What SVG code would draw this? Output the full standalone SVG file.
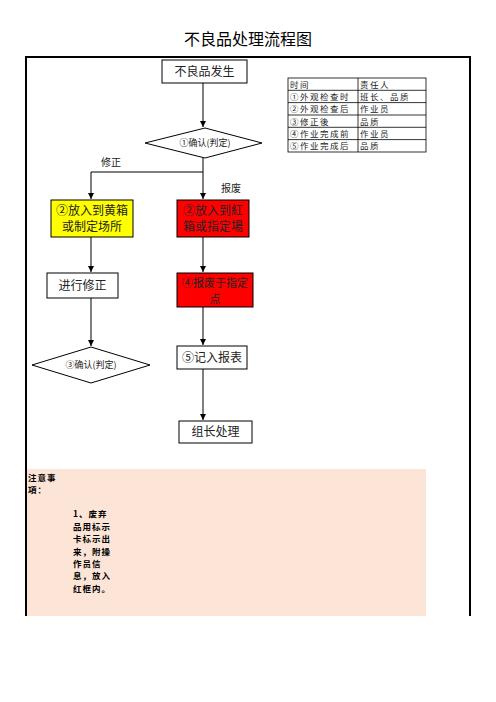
<svg xmlns="http://www.w3.org/2000/svg" width="496" height="702" viewBox="0 0 496 702">
<defs>
<style>
text{font-family:"Noto Sans CJK SC","Liberation Serif",sans-serif;fill:#222}
.t{font-size:12px;text-anchor:middle}
.s{font-size:9px;text-anchor:middle}
.tb{font-size:8.5px;letter-spacing:1.5px}
.n{font-size:8.5px;font-weight:bold;fill:#000;letter-spacing:1px}
.box{stroke:#000;stroke-width:1;fill:#fff}
.ln{stroke:#555;stroke-width:1.5;fill:none}
.cell{stroke:#000;stroke-width:0.8;fill:none}
</style>
<marker id="ah" markerWidth="8" markerHeight="8" refX="6" refY="3" orient="auto" markerUnits="userSpaceOnUse">
<path d="M0,0 L6,3 L0,6 Z" fill="#000"/>
</marker>
</defs>
<rect width="496" height="702" fill="#fff"/>
<text x="248" y="45" style="font-size:16px;text-anchor:middle;fill:#000">不良品处理流程图</text>
<rect x="27" y="469" width="399" height="147" fill="#FCE4D6"/>
<path d="M26,616 V57 H470 V616" fill="none" stroke="#000" stroke-width="2"/>
<g id="connectors">
<line class="ln" x1="203" y1="83" x2="203" y2="127" marker-end="url(#ah)"/>
<line class="ln" x1="203" y1="158" x2="203" y2="199" marker-end="url(#ah)"/>
<path d="M203,172 H91 V199" fill="none" stroke="#000" stroke-width="1" marker-end="url(#ah)"/>
<line class="ln" x1="91" y1="237" x2="91" y2="272" marker-end="url(#ah)"/>
<line class="ln" x1="91" y1="298" x2="91" y2="346" marker-end="url(#ah)"/>
<line class="ln" x1="203" y1="237" x2="203" y2="272" marker-end="url(#ah)"/>
<line class="ln" x1="203" y1="307" x2="203" y2="345" marker-end="url(#ah)"/>
<line class="ln" x1="203" y1="369" x2="203" y2="420" marker-end="url(#ah)"/>
<text x="111" y="166" class="s" style="font-size:10px">修正</text>
<text x="231" y="192" class="s" style="font-size:10px">报废</text>
</g>
<g id="n-start"><rect class="box" x="162" y="60" width="85" height="23"/><text x="204.5" y="76" class="t">不良品发生</text></g>
<g id="n-check1"><polygon class="box" points="205,128 262,143 205,158 145,143"/><text x="205" y="146" class="s">①确认(判定)</text></g>
<g id="n-yellow"><rect x="51" y="200" width="82" height="37" fill="#FFFF00" stroke="#000"/><text x="92" y="215" class="t">②放入到黄箱</text><text x="92" y="231" class="t">或制定场所</text></g>
<g id="n-red1"><rect x="177" y="200" width="72" height="37" fill="#FF0000" stroke="#000"/><text x="213" y="215" class="t">②放入到紅</text><text x="213" y="231" class="t">箱或指定場</text></g>
<g id="n-fix"><rect class="box" x="47" y="273" width="71" height="25"/><text x="82.5" y="290" class="t">进行修正</text></g>
<g id="n-check3"><polygon class="box" points="91,347 150,365 91,383 32,365"/><text x="91" y="368" class="s">③确认(判定)</text></g>
<g id="n-red2"><rect x="177" y="273" width="76" height="34" fill="#FF0000" stroke="#000"/><text x="215" y="287" class="t" style="font-size:11px">④报废于指定</text><text x="215" y="303" class="t" style="font-size:11px">点</text></g>
<g id="n-record"><rect class="box" x="177" y="346" width="70" height="23"/><text x="212" y="362" class="t">⑤记入报表</text></g>
<g id="n-leader"><rect class="box" x="179" y="421" width="73" height="22"/><text x="215.5" y="436" class="t">组长处理</text></g>
<g id="table">
<rect class="cell" x="288" y="78" width="138" height="74"/>
<line class="cell" x1="358" y1="78" x2="358" y2="152"/>
<line class="cell" x1="288" y1="90.3" x2="426" y2="90.3"/>
<line class="cell" x1="288" y1="102.6" x2="426" y2="102.6"/>
<line class="cell" x1="288" y1="115" x2="426" y2="115"/>
<line class="cell" x1="288" y1="127.3" x2="426" y2="127.3"/>
<line class="cell" x1="288" y1="139.6" x2="426" y2="139.6"/>
<text x="290" y="87.5" class="tb">时间</text><text x="360" y="87.5" class="tb">责任人</text>
<text x="290" y="99.8" class="tb">①外观检查时</text><text x="360" y="99.8" class="tb">班长、品质</text>
<text x="290" y="112" class="tb">②外观检查后</text><text x="360" y="112" class="tb">作业员</text>
<text x="290" y="124.5" class="tb">③修正後</text><text x="360" y="124.5" class="tb">品质</text>
<text x="290" y="136.8" class="tb">④作业完成前</text><text x="360" y="136.8" class="tb">作业员</text>
<text x="290" y="149" class="tb">⑤作业完成后</text><text x="360" y="149" class="tb">品质</text>
</g>
<g id="notes">
<text x="28" y="481" class="n">注意事</text>
<text x="28" y="493" class="n">項：</text>
<text x="73" y="517" class="n">1、废弃</text>
<text x="73" y="530" class="n">品用标示</text>
<text x="73" y="542" class="n">卡标示出</text>
<text x="73" y="555" class="n">来，附操</text>
<text x="73" y="567" class="n">作员信</text>
<text x="73" y="579" class="n">息，放入</text>
<text x="73" y="592" class="n">红框内。</text>
</g>
</svg>
